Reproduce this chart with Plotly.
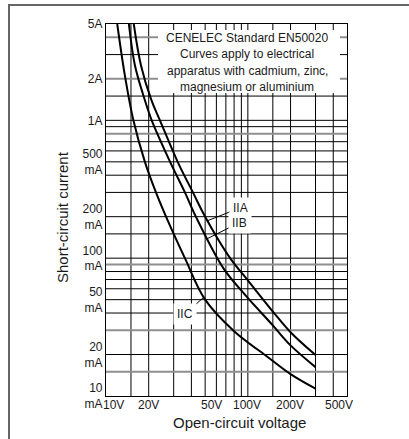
import numpy as np
import plotly.graph_objects as go

# ---------------- data ----------------
iia_v = [15.7, 17.65, 20.9, 24, 32, 41, 50, 75, 100, 150, 200, 300]
iia_i = [5000, 2500, 1400, 1000, 500, 300, 200, 100, 69, 41, 29, 19.8]

iib_v = [14.5, 16.0, 18.8, 21, 28.3, 36, 43, 67.5, 96, 150, 200, 300]
iib_i = [5000, 2500, 1400, 1000, 500, 300, 200, 84, 54, 32.5, 23.3, 16.2]

iic_v = [12, 13.6, 15.6, 18.8, 22.5, 26.5, 30, 36, 50, 80, 135, 200, 300]
iic_i = [5000, 2100, 1000, 500, 300, 200, 150, 100, 50, 29.5, 19.5, 14.4, 11.3]

curve_names = ["IIA", "IIB", "IIC"]

x_tick_vals = [10, 20, 50, 100, 200, 500]
x_tick_text = ["10V", "20V", "50V", "100V", "200V", "500V"]

y_tick_vals = [10, 20, 50, 100, 200, 500, 1000, 2000, 5000]
y_tick_text = ["10<br>mA", "20<br>mA", "50<br>mA", "100<br>mA", "200<br>mA",
               "500<br>mA", "1A", "2A", "5A"]

grid_v = [15, 20, 30, 40, 50, 60, 70, 80, 90, 100, 150, 200, 300, 400]
grid_i_black = [3000, 1500, 1000, 900, 700, 600, 500, 400, 300, 200, 150,
                100, 80, 70, 60, 50, 40, 20]
grid_i_gray = [4000, 2000, 800, 90, 30, 15]

note_lines = ["CENELEC Standard EN50020",
              "Curves apply to electrical",
              "apparatus with cadmium, zinc,",
              "magnesium or aluminium"]

# ---------------- layout geometry ----------------
W, H = 409, 439
ML, MR, MT, MB = 106, 62, 24, 43
PW, PH = W - ML - MR, H - MT - MB


def px(xp):
    return (xp - ML) / PW


def py(yp):
    return (H - MB - yp) / PH


FONT = "Liberation Sans, Arial, sans-serif"
TXT = "#1a1a1a"

fig = go.Figure()

for v, i in [(iia_v, iia_i), (iib_v, iib_i), (iic_v, iic_i)]:
    fig.add_trace(go.Scatter(x=v, y=i, mode="lines",
                             line=dict(color="black", width=2,
                                       shape="spline", smoothing=1.0),
                             hoverinfo="skip", showlegend=False))

shapes = []
for v in grid_v:
    shapes.append(dict(type="line", xref="x", yref="paper", x0=v, x1=v,
                       y0=0, y1=1, line=dict(color="black", width=1),
                       layer="below"))
for i in grid_i_black:
    shapes.append(dict(type="line", xref="paper", yref="y", x0=0, x1=1,
                       y0=i, y1=i, line=dict(color="black", width=1),
                       layer="below"))
for i in grid_i_gray:
    shapes.append(dict(type="line", xref="paper", yref="y", x0=0, x1=1,
                       y0=i, y1=i, line=dict(color="#8f8f8f", width=2),
                       layer="below"))
# white box behind the note
shapes.append(dict(type="rect", xref="paper", yref="paper",
                   x0=px(158), x1=px(340), y0=py(93), y1=py(30),
                   fillcolor="white", line=dict(width=0), layer="below"))
# outer frame (only its left and top edges fall inside the picture)
shapes.append(dict(type="rect", xref="paper", yref="paper",
                   x0=px(9), x1=px(W + 30), y0=py(H + 30), y1=py(5),
                   line=dict(color="#666666", width=2),
                   fillcolor="rgba(0,0,0,0)", layer="above"))

annotations = []
# x tick labels
x_shift = [7, 0, 6, -1, -1, -8]
for v, t, s in zip(x_tick_vals, x_tick_text, x_shift):
    annotations.append(dict(x=np.log10(v), xref="x", y=0, yref="paper",
                            xanchor="center", yanchor="top", yshift=-1,
                            xshift=s, text=t, showarrow=False, borderpad=0,
                            font=dict(size=12, color=TXT, family=FONT)))
# note lines
for k, t in enumerate(note_lines):
    annotations.append(dict(x=px(247), y=py(38 + 16.3 * k), xref="paper",
                            yref="paper", xanchor="center", yanchor="middle",
                            text=t, showarrow=False,
                            font=dict(size=12, color=TXT, family=FONT)))


def curve_at(vs, is_, v):
    return 10 ** np.interp(np.log10(v), np.log10(vs), np.log10(is_))


label_specs = [
    ("IIA", iia_v, iia_i, 52, 33, -13),
    ("IIB", iib_v, iib_i, 52, 32, -16),
    ("IIC", iic_v, iic_i, 49, -19, 17),
]
for name, vs, is_, vt, ax, ay in label_specs:
    annotations.append(dict(x=np.log10(vt), y=np.log10(curve_at(vs, is_, vt)),
                            xref="x", yref="y", text=name, showarrow=True,
                            arrowhead=0, arrowwidth=1, arrowcolor="black",
                            ax=ax, ay=ay, bgcolor="white", borderpad=3,
                            font=dict(size=12, color=TXT, family=FONT)))

# axis titles
annotations.append(dict(x=px(239), y=py(422), xref="paper", yref="paper",
                        xanchor="center", yanchor="middle", borderpad=0,
                        text="Open-circuit voltage", showarrow=False,
                        font=dict(size=15, color=TXT, family=FONT)))
annotations.append(dict(x=px(62), y=py(217), xref="paper", yref="paper",
                        xanchor="center", yanchor="middle",
                        text="Short-circuit current", showarrow=False,
                        textangle=-90,
                        font=dict(size=15, color=TXT, family=FONT)))

fig.update_layout(
    width=W, height=H,
    margin=dict(l=ML, r=MR, t=MT, b=MB, pad=0),
    paper_bgcolor="white", plot_bgcolor="white",
    shapes=shapes, annotations=annotations,
    xaxis=dict(type="log", range=[1, np.log10(500)], showgrid=False,
               showticklabels=False, ticks="", showline=True, mirror=True,
               linecolor="black", linewidth=1.2, zeroline=False,
               fixedrange=True),
    yaxis=dict(type="log", range=[1, np.log10(5000)], showgrid=False,
               tickvals=y_tick_vals, ticktext=y_tick_text, ticks="",
               tickfont=dict(size=12, color=TXT, family=FONT),
               showline=True, mirror=True, linecolor="black", linewidth=1.2,
               zeroline=False, fixedrange=True),
    showlegend=False,
)

frame_js = (
    "document.body.style.margin='0px';"
    "document.body.style.overflow='hidden';"
    "var fr=document.createElement('div');"
    "fr.style.cssText='position:absolute;left:8px;top:4px;width:700px;"
    "height:700px;border-left:2px solid #666;border-top:2px solid #666;"
    "pointer-events:none;';"
    "document.body.appendChild(fr);"
)
fig.write_html("out.html", config={"displayModeBar": False},
               post_script=frame_js)
